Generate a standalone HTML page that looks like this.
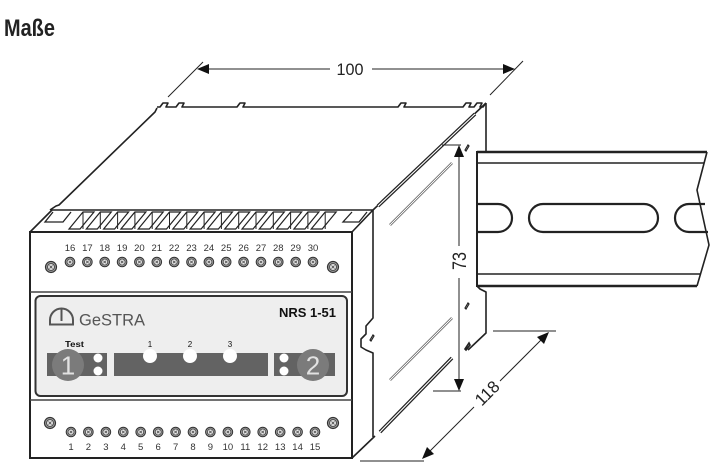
<!DOCTYPE html>
<html>
<head>
<meta charset="utf-8">
<style>
  html,body{margin:0;padding:0;background:#fff;}
  body{width:718px;height:473px;overflow:hidden;}
  svg{display:block;}
  text{font-family:"Liberation Sans",sans-serif;}
</style>
</head>
<body>
<svg width="718" height="473" viewBox="0 0 718 473" xmlns="http://www.w3.org/2000/svg">
  <defs>
    <g id="slat">
      <polygon points="0,229 11,229 25,212 14,212" fill="#fff" stroke="#222" stroke-width="1.2"/>
      <line x1="14" y1="212" x2="14" y2="229" stroke="#222" stroke-width="1"/>
    </g>
    <g id="screw">
      <circle r="4.8" fill="#9a9a9a" stroke="#333" stroke-width="1"/>
      <circle r="3" fill="#e6e6e6" stroke="#444" stroke-width="0.8"/>
      <path d="M-1.3,-1.3L1.3,1.3M-1.3,1.3L1.3,-1.3" stroke="#444" stroke-width="0.7"/>
    </g>
  </defs>

  <!-- Title -->
  <text transform="translate(4,36) scale(0.83,1)" font-size="24" font-weight="bold" fill="#222">Maße</text>

  <!-- ===== Main body top face ===== -->
  <g stroke="#222" stroke-width="1.6" fill="none" stroke-linejoin="round">
    <path d="M50,210 L56,206 L59,205 L155,112 L157,108"/>
    <path d="M157,107 L160,107 L163,103 L168,103 L166,107 L176,107 L179,103 L184,103 L182,107 L237,107 L240,103 L245,103 L243,107 L398,107 L401,103 L406,103 L404,107 L463,107 L466,103 L471,103 L469,107 L474,107 L477,103 L482,103 L480,107 L483,107 L486,103"/>
    <path d="M486,103 L486,152"/>
    <path d="M373,210 L486,103"/>
  </g>
  <!-- thick groove along top-right edge -->
  <line x1="378" y1="206" x2="475" y2="114" stroke="#222" stroke-width="3.6"/>
  <line x1="378" y1="206" x2="475" y2="114" stroke="#fff" stroke-width="1.1"/>
  <!-- thin grooves -->
  <line x1="390" y1="225" x2="452" y2="163" stroke="#555" stroke-width="2.6"/>
  <line x1="390" y1="225" x2="452" y2="163" stroke="#fff" stroke-width="1.1"/>
  <line x1="390" y1="380" x2="452" y2="318" stroke="#555" stroke-width="2.6"/>
  <line x1="390" y1="380" x2="452" y2="318" stroke="#fff" stroke-width="1.1"/>
  <!-- lower thick groove -->
  <line x1="380" y1="432" x2="452" y2="358" stroke="#222" stroke-width="3.6"/>
  <line x1="380" y1="432" x2="452" y2="358" stroke="#fff" stroke-width="1.1"/>

  <!-- side face edges -->
  <g stroke="#222" stroke-width="1.6" fill="none" stroke-linejoin="round">
    <path d="M373,210 L373,318 L366,326 L366,334 L361,339 L361,347 L366,350 L373,353 L373,437"/>
    <path d="M352,458 L375,436"/>
    <path d="M477,286 L480,289 L486,292 L486,333 L468,350"/>
  </g>
  <!-- small marks -->
  <g stroke="#222" stroke-width="1.2" fill="none">
    <path d="M465,150 L468,145 L469,146 L466,151 Z"/>
    <path d="M465,308 L468,303 L469,304 L466,309 Z"/>
    <path d="M465,349 L469,343 L470,345 L466,350 Z" stroke-width="1.6"/>
    <path d="M370,340 L373,335 L374,336 L371,341 Z"/>
  </g>

  <!-- ===== DIN rail ===== -->
  <polygon points="477,152 707,152 697,190 709,245 697,286 477,286" fill="#fff"/>
  <g stroke="#222" fill="none">
    <line x1="477" y1="152" x2="707" y2="152" stroke-width="2.6"/>
    <line x1="477" y1="163" x2="704" y2="163" stroke-width="1.6"/>
    <line x1="477" y1="274" x2="700" y2="274" stroke-width="1.6"/>
    <line x1="477" y1="286" x2="697" y2="286" stroke-width="2.6"/>
    <line x1="477" y1="151" x2="477" y2="287" stroke-width="2"/>
    <path d="M707,152 L697,190 L709,245 L697,286" stroke-width="1.6"/>
    <path d="M477,204 L498,204 A14,14 0 0 1 498,232 L477,232" stroke-width="2.2"/>
    <rect x="529" y="204" width="129" height="28" rx="14" ry="14" stroke-width="2.2"/>
    <path d="M705,204 L689,204 A14,14 0 0 0 689,232 L708,232" stroke-width="2.2"/>
  </g>

  <!-- ===== Front block ===== -->
  <!-- top strip -->
  <polygon points="30,232 52,210 373,210 352,232" fill="#fff" stroke="#222" stroke-width="1.6" stroke-linejoin="round"/>
  <g stroke="#222" stroke-width="1.3" fill="none">
    <path d="M53,212 L45,222 L63,222 L71,212"/>
    <path d="M352,212 L343,222 L359,222 L367,212"/>
  </g>
  <use href="#slat" x="69"/>
  <use href="#slat" x="86.3"/>
  <use href="#slat" x="103.6"/>
  <use href="#slat" x="120.9"/>
  <use href="#slat" x="138.2"/>
  <use href="#slat" x="155.5"/>
  <use href="#slat" x="172.8"/>
  <use href="#slat" x="190.1"/>
  <use href="#slat" x="207.4"/>
  <use href="#slat" x="224.7"/>
  <use href="#slat" x="242"/>
  <use href="#slat" x="259.3"/>
  <use href="#slat" x="276.6"/>
  <use href="#slat" x="293.9"/>
  <use href="#slat" x="311.2"/>

  <!-- front face -->
  <rect x="30" y="232" width="322" height="226" fill="#fff" stroke="#222" stroke-width="2"/>
  <line x1="30" y1="292" x2="352" y2="292" stroke="#444" stroke-width="1.6"/>
  <line x1="30" y1="400" x2="352" y2="400" stroke="#444" stroke-width="1.6"/>

  <!-- top terminals -->
  <g font-size="9.5" fill="#333" text-anchor="middle">
    <text x="70" y="251">16</text>
    <text x="87.4" y="251">17</text>
    <text x="104.7" y="251">18</text>
    <text x="122.1" y="251">19</text>
    <text x="139.4" y="251">20</text>
    <text x="156.8" y="251">21</text>
    <text x="174.2" y="251">22</text>
    <text x="191.5" y="251">23</text>
    <text x="208.9" y="251">24</text>
    <text x="226.2" y="251">25</text>
    <text x="243.6" y="251">26</text>
    <text x="261" y="251">27</text>
    <text x="278.3" y="251">28</text>
    <text x="295.7" y="251">29</text>
    <text x="313" y="251">30</text>
  </g>
  <use href="#screw" x="70" y="262"/>
  <use href="#screw" x="87.4" y="262"/>
  <use href="#screw" x="104.7" y="262"/>
  <use href="#screw" x="122.1" y="262"/>
  <use href="#screw" x="139.4" y="262"/>
  <use href="#screw" x="156.8" y="262"/>
  <use href="#screw" x="174.2" y="262"/>
  <use href="#screw" x="191.5" y="262"/>
  <use href="#screw" x="208.9" y="262"/>
  <use href="#screw" x="226.2" y="262"/>
  <use href="#screw" x="243.6" y="262"/>
  <use href="#screw" x="261" y="262"/>
  <use href="#screw" x="278.3" y="262"/>
  <use href="#screw" x="295.7" y="262"/>
  <use href="#screw" x="313" y="262"/>
  <g transform="translate(51,267) scale(1.15)"><use href="#screw"/></g>
  <g transform="translate(333,267) scale(1.15)"><use href="#screw"/></g>

  <!-- bottom terminals -->
  <use href="#screw" x="71" y="432"/>
  <use href="#screw" x="88.4" y="432"/>
  <use href="#screw" x="105.9" y="432"/>
  <use href="#screw" x="123.3" y="432"/>
  <use href="#screw" x="140.7" y="432"/>
  <use href="#screw" x="158.2" y="432"/>
  <use href="#screw" x="175.6" y="432"/>
  <use href="#screw" x="193" y="432"/>
  <use href="#screw" x="210.4" y="432"/>
  <use href="#screw" x="227.9" y="432"/>
  <use href="#screw" x="245.3" y="432"/>
  <use href="#screw" x="262.7" y="432"/>
  <use href="#screw" x="280.2" y="432"/>
  <use href="#screw" x="297.6" y="432"/>
  <use href="#screw" x="315" y="432"/>
  <g transform="translate(50,423) scale(1.15)"><use href="#screw"/></g>
  <g transform="translate(333,423) scale(1.15)"><use href="#screw"/></g>
  <g font-size="9.5" fill="#333" text-anchor="middle">
    <text x="71" y="450">1</text>
    <text x="88.4" y="450">2</text>
    <text x="105.9" y="450">3</text>
    <text x="123.3" y="450">4</text>
    <text x="140.7" y="450">5</text>
    <text x="158.2" y="450">6</text>
    <text x="175.6" y="450">7</text>
    <text x="193" y="450">8</text>
    <text x="210.4" y="450">9</text>
    <text x="227.9" y="450">10</text>
    <text x="245.3" y="450">11</text>
    <text x="262.7" y="450">12</text>
    <text x="280.2" y="450">13</text>
    <text x="297.6" y="450">14</text>
    <text x="315" y="450">15</text>
  </g>

  <!-- panel -->
  <rect x="35.5" y="296" width="311.5" height="100" rx="5" ry="5" fill="#eeeeee" stroke="#333" stroke-width="2"/>
  <!-- logo -->
  <g stroke="#555" stroke-width="2" fill="none">
    <path d="M50,324.5 L50,320 A11.5,11.5 0 0 1 73,320 L73,324.5 Z"/>
    <line x1="61.5" y1="309" x2="61.5" y2="321"/>
  </g>
  <text x="79" y="325.5" font-size="17" fill="#555" textLength="66" lengthAdjust="spacingAndGlyphs">GeSTRA</text>
  <text x="279" y="317" font-size="13" font-weight="bold" fill="#111" textLength="57" lengthAdjust="spacingAndGlyphs">NRS 1-51</text>
  <text x="65" y="347" font-size="8" font-weight="bold" fill="#111" textLength="19" lengthAdjust="spacingAndGlyphs">Test</text>
  <g font-size="8" fill="#111" text-anchor="middle">
    <text x="150" y="347">1</text>
    <text x="190" y="347">2</text>
    <text x="230" y="347">3</text>
  </g>
  <!-- bars -->
  <rect x="47" y="353" width="60" height="23" fill="#636363"/>
  <rect x="114" y="353" width="154" height="23" fill="#636363"/>
  <rect x="274" y="353" width="61" height="23" fill="#636363"/>
  <circle cx="68" cy="365" r="16" fill="#7b7b7b"/>
  <text x="68" y="374.5" font-size="26" fill="#e2e2e2" text-anchor="middle">1</text>
  <circle cx="313" cy="365" r="16" fill="#7b7b7b"/>
  <text x="313" y="374.5" font-size="26" fill="#e2e2e2" text-anchor="middle">2</text>
  <g fill="#fff">
    <circle cx="98" cy="358" r="4.5"/>
    <circle cx="98" cy="371" r="4.5"/>
    <circle cx="284" cy="358" r="4.5"/>
    <circle cx="284" cy="371" r="4.5"/>
    <circle cx="150" cy="356" r="7"/>
    <circle cx="190" cy="356" r="7"/>
    <circle cx="230" cy="356" r="7"/>
  </g>

  <!-- ===== Dimensions ===== -->
  <g stroke="#222" stroke-width="1" fill="none">
    <!-- 100 -->
    <line x1="168" y1="97" x2="203" y2="62"/>
    <line x1="490" y1="95" x2="523" y2="61"/>
    <line x1="209" y1="69" x2="330" y2="69"/>
    <line x1="372" y1="69" x2="503" y2="69"/>
    <!-- 73 -->
    <line x1="442" y1="145" x2="461" y2="145"/>
    <line x1="433" y1="391" x2="461" y2="391"/>
    <line x1="459" y1="157" x2="459" y2="246"/>
    <line x1="459" y1="278" x2="459" y2="379"/>
    <!-- 118 -->
    <line x1="493" y1="331" x2="556" y2="331"/>
    <line x1="360" y1="461" x2="424" y2="461"/>
    <line x1="430" y1="451" x2="474" y2="407"/>
    <line x1="500" y1="381" x2="541" y2="340"/>
  </g>
  <g fill="#111">
    <polygon points="197,69 209,64 209,74"/>
    <polygon points="515,69 503,64 503,74"/>
    <polygon points="459,145 454,157 464,157"/>
    <polygon points="459,391 454,379 464,379"/>
    <polygon points="422,459 434,454 427,447"/>
    <polygon points="549,332 544,344 537,337"/>
  </g>
  <text x="350" y="75" font-size="17" fill="#222" text-anchor="middle" textLength="27" lengthAdjust="spacingAndGlyphs">100</text>
  <text transform="translate(466,261) rotate(-90)" font-size="19" fill="#222" text-anchor="middle" textLength="18" lengthAdjust="spacingAndGlyphs">73</text>
  <text transform="translate(487,393) rotate(-45)" y="6" font-size="17" fill="#222" text-anchor="middle" textLength="27" lengthAdjust="spacingAndGlyphs">118</text>
</svg>
</body>
</html>
